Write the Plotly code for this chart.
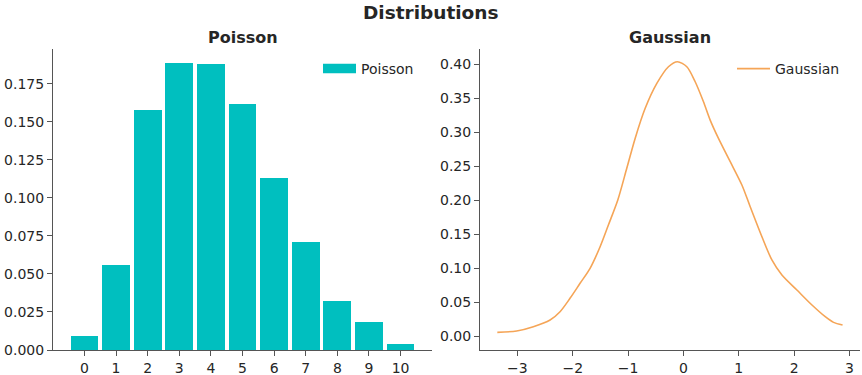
import plotly.graph_objects as go

# ---- data ----
poisson_k = [0, 1, 2, 3, 4, 5, 6, 7, 8, 9, 10]
poisson_p = [0.0092, 0.056, 0.158, 0.189, 0.188, 0.162, 0.113, 0.071, 0.032, 0.0184, 0.004]

gauss_x = [-3.363, -3.013, -2.712, -2.41, -2.23, -2.05, -1.868, -1.687, -1.506, -1.356,
           -1.186, -1.024, -0.873, -0.693, -0.481, -0.271, -0.108, 0.061, 0.212, 0.362,
           0.483, 0.633, 0.845, 1.056, 1.206, 1.418, 1.598, 1.779, 2.05, 2.322, 2.562,
           2.712, 2.875]
gauss_y = [0.0054, 0.0074, 0.0137, 0.0236, 0.0358, 0.0555, 0.0776, 0.0997, 0.1315, 0.1635,
           0.2003, 0.247, 0.291, 0.335, 0.372, 0.3966, 0.404, 0.3966, 0.3745, 0.345,
           0.318, 0.291, 0.2567, 0.2224, 0.1904, 0.1462, 0.112, 0.0898, 0.0677, 0.0457, 0.0285,
           0.0201, 0.0162]

left_yticks = [0.0, 0.025, 0.05, 0.075, 0.1, 0.125, 0.15, 0.175]
right_yticks = [0.0, 0.05, 0.1, 0.15, 0.2, 0.25, 0.3, 0.35, 0.4]
right_xticks = [-3, -2, -1, 0, 1, 2, 3]
right_xtext = ["\u22123", "\u22122", "\u22121", "0", "1", "2", "3"]

TEAL = "#00BFBF"
ORANGE = "#F5A557"
TEXT = "#262626"
SPINE = "#555555"
FONT = "DejaVu Sans"

W, H = 862, 375

fig = go.Figure()
fig.add_trace(go.Bar(x=poisson_k, y=poisson_p, width=0.88, marker=dict(color=TEAL, line=dict(width=0)),
                     name="Poisson", showlegend=False, xaxis="x", yaxis="y"))
# legend proxy for bars (wide patch like matplotlib)
fig.add_trace(go.Scatter(x=[None], y=[None], mode="lines", line=dict(color=TEAL, width=9.5),
                         name="Poisson", showlegend=True, legend="legend", xaxis="x", yaxis="y"))
fig.add_trace(go.Scatter(x=gauss_x, y=gauss_y, mode="lines", line=dict(color=ORANGE, width=1.6, shape="spline", smoothing=0.8),
                         name="Gaussian", showlegend=True, legend="legend2", xaxis="x2", yaxis="y2"))

axis_common = dict(showgrid=False, zeroline=False, showline=True, linecolor=SPINE, linewidth=1,
                   ticks="outside", ticklen=5, tickwidth=1, tickcolor=SPINE, automargin=False,
                   tickfont=dict(family=FONT, size=14, color=TEXT))

ydom = [25 / H, 326 / H]
fig.update_layout(
    width=W, height=H,
    margin=dict(l=0, r=0, t=0, b=0),
    paper_bgcolor="white", plot_bgcolor="white",
    font=dict(family=FONT, color=TEXT),
    bargap=0,
    xaxis=dict(domain=[53 / W, 432 / W], range=[-0.995, 10.995], tickmode="array", tickvals=poisson_k,
               anchor="y", **axis_common),
    yaxis=dict(domain=ydom, range=[0, 0.198], tickmode="array", tickvals=left_yticks, tickformat=".3f",
               anchor="x", **axis_common),
    xaxis2=dict(domain=[480 / W, 860 / W], range=[-3.676, 3.19], tickmode="array", tickvals=right_xticks,
                ticktext=right_xtext, anchor="y2", **axis_common),
    yaxis2=dict(domain=ydom, range=[-0.0206, 0.4227], tickmode="array", tickvals=right_yticks, tickformat=".2f",
                anchor="x2", **axis_common),
    legend=dict(x=318 / W, y=1 - 53 / H, xanchor="left", yanchor="top", bgcolor="rgba(0,0,0,0)",
                font=dict(family=FONT, size=14, color=TEXT), itemwidth=33),
    legend2=dict(x=732 / W, y=1 - 53 / H, xanchor="left", yanchor="top", bgcolor="rgba(0,0,0,0)",
                 font=dict(family=FONT, size=14, color=TEXT), itemwidth=33),
    annotations=[
        dict(text="<b>Distributions</b>", x=0.5, y=1 - 12 / H, xref="paper", yref="paper",
             xanchor="center", yanchor="middle", showarrow=False, font=dict(family=FONT, size=18.5, color=TEXT)),
        dict(text="<b>Poisson</b>", x=(53 + 432) / 2 / W, y=1 - 37 / H, xref="paper", yref="paper",
             xanchor="center", yanchor="middle", showarrow=False, font=dict(family=FONT, size=16, color=TEXT)),
        dict(text="<b>Gaussian</b>", x=(480 + 860) / 2 / W, y=1 - 37 / H, xref="paper", yref="paper",
             xanchor="center", yanchor="middle", showarrow=False, font=dict(family=FONT, size=16, color=TEXT)),
    ],
)

fig.write_html("out.html", config={"displayModeBar": False},
               post_script="document.body.style.margin='0';document.body.style.overflow='hidden';")
